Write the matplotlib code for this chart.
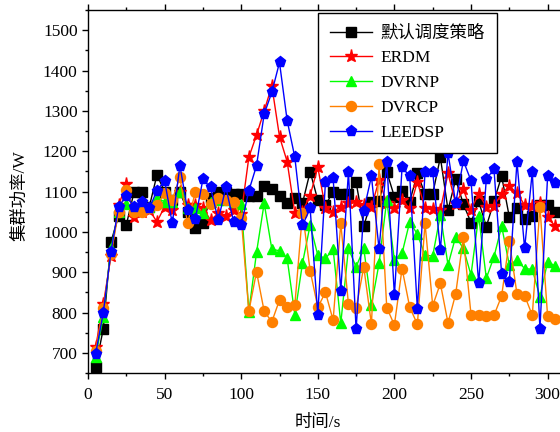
import numpy as np
import matplotlib
matplotlib.use("Agg")
import matplotlib.pyplot as plt
from matplotlib.ticker import MultipleLocator

plt.rcParams['font.family'] = ['Liberation Serif', 'Noto Sans CJK SC']
plt.rcParams['axes.unicode_minus'] = False

time_s = list(range(5, 310, 5))

default_policy = [665, 760, 975, 1040, 1017, 1098, 1098, 1062, 1141, 1100,
                  1080, 1100, 1050, 1010, 1022, 1085, 1100, 1098, 1095, 1093,
                  1088, 1088, 1113, 1105, 1090, 1071, 1083, 1071, 1149, 1079,
                  1066, 1100, 1095,
                  1095, 1123, 1015, 1075, 1077, 1149, 1087, 1102, 1075, 1145,
                  1094, 1094, 1185, 1054,
                  1130, 1069, 1023, 1076, 1013, 1076, 1138, 1037, 1058, 1032,
                  1040, 1066, 1066, 1050]
erdm = [715, 820, 940, 1066, 1119, 1037, 1050, 1054, 1025, 1062,
        1054, 1100, 1066, 1066, 1060, 1029, 1046, 1040, 1054, 1044,
        1185, 1240, 1300, 1362, 1236, 1174, 1047, 1050, 1090, 1160,
        1058, 1050, 1062,
        1071, 1073, 1066, 1062, 1128, 1071, 1058, 1079, 1058, 1124,
        1058, 1056, 1054, 1145,
        1070, 1105, 1054, 1095, 1062, 1064, 1095, 1113, 1097, 1066,
        1064, 1072, 1036, 1014]
dvrnp = [690, 790, 960, 1050, 1070, 1062, 1070, 1062, 1083, 1075,
         1075, 1100, 1060, 1060, 1046, 1075, 1080, 1080, 1075, 1069,
         802, 949, 1071, 957, 953, 934, 795, 922, 1017, 942,
         934, 957, 773,
         959, 913, 959, 818, 922, 1079, 930, 947, 1025, 994,
         942, 940, 1042, 918,
         988, 959, 893, 1039, 885, 938, 1014, 918, 930, 909,
         907, 839, 926, 915]
dvrcp = [705, 810, 945, 1050, 1104, 1050, 1050, 1058, 1066, 1096,
         1080, 1135, 1021, 1098, 1095, 1070, 1083, 1080, 1075, 1035,
         803, 901, 803, 777, 831, 813, 818, 1047, 904, 813,
         850, 781, 1021,
         821, 810, 913, 771, 1168, 812, 769, 909, 813, 771,
         1021, 817, 872, 774,
         846, 986, 795, 793, 791, 793, 841, 978, 846, 842,
         793, 1062, 791, 785]
leedsp = [698, 800, 951, 1062, 1089, 1062, 1075, 1058, 1102, 1127,
          1021, 1164, 1054, 1031, 1130, 1110, 1029, 1110, 1025, 1017,
          1102, 1164, 1292, 1346, 1420, 1276, 1185, 1016, 1058, 795,
          1124, 1133, 854,
          1149, 758, 1052, 1138, 957, 1174, 843, 1160, 1138, 808,
          1149, 1149, 955, 1195,
          1071, 1176, 1127, 872, 1131, 1155, 895, 876, 1174, 959,
          1149, 760, 1138, 1122]

labels = ['默认调度策略', 'ERDM', 'DVRNP', 'DVRCP', 'LEEDSP']
x_ticks = [0, 50, 100, 150, 200, 250, 300]
y_ticks = [700, 800, 900, 1000, 1100, 1200, 1300, 1400, 1500]

W, H = 560, 432
fig = plt.figure(figsize=(W / 100, H / 100), dpi=100)
ax_left, ax_bottom = 88 / W, 59 / H
ax_h = (373 - 10) / H
xmax = 320
ax_w = (xmax * 1.532) / W
ax = fig.add_axes([ax_left, ax_bottom, ax_w, ax_h])

styles = [
    (default_policy, 'black', 's', 6.5),
    (erdm, '#ff0000', '*', 9.5),
    (dvrnp, '#00ff00', '^', 7),
    (dvrcp, '#ff8000', 'o', 7.2),
    (leedsp, '#0000ff', 'p', 8),
]
for (vals, col, mk, ms), lab in zip(styles, labels):
    ax.plot(time_s, vals, color=col, marker=mk, markersize=ms,
            markeredgecolor=col, markerfacecolor=col, linewidth=1.0,
            label=lab, clip_on=True)

ax.set_xlim(0, xmax)
ax.set_ylim(650, 1550)
ax.set_xticks(x_ticks)
ax.set_yticks(y_ticks)
ax.xaxis.set_minor_locator(MultipleLocator(25))
ax.yaxis.set_minor_locator(MultipleLocator(50))
ax.tick_params(axis='both', which='major', direction='out', length=4.5,
               width=1.0, labelsize=12.5, colors='black')
ax.tick_params(axis='both', which='minor', direction='out', length=2.5,
               width=1.0)
ax.tick_params(axis='x', which='both', top=True, labeltop=False, pad=5.5)
ax.tick_params(axis='y', which='both', right=False, pad=3)
ax.spines['right'].set_visible(False)
for s in ['left', 'bottom', 'top']:
    ax.spines[s].set_linewidth(1.0)

fig.text(20 / W, 1 - 196 / H, '集群功率/W', rotation=90, ha='center',
         va='center', fontsize=12.5)
fig.text(318 / W, 1 - 423 / H, '时间/s', ha='center', va='center',
         fontsize=12.5)

leg = ax.legend(loc='upper left', bbox_to_anchor=(318 / W, 1 - 13 / H),
                bbox_transform=fig.transFigure, borderaxespad=0,
                fancybox=False, framealpha=1, edgecolor='black',
                fontsize=12.5, handlelength=2.4, labelspacing=0.5,
                borderpad=0.7, handletextpad=0.5)
leg.get_frame().set_linewidth(1.0)

fig.savefig('out.png', dpi=100)
